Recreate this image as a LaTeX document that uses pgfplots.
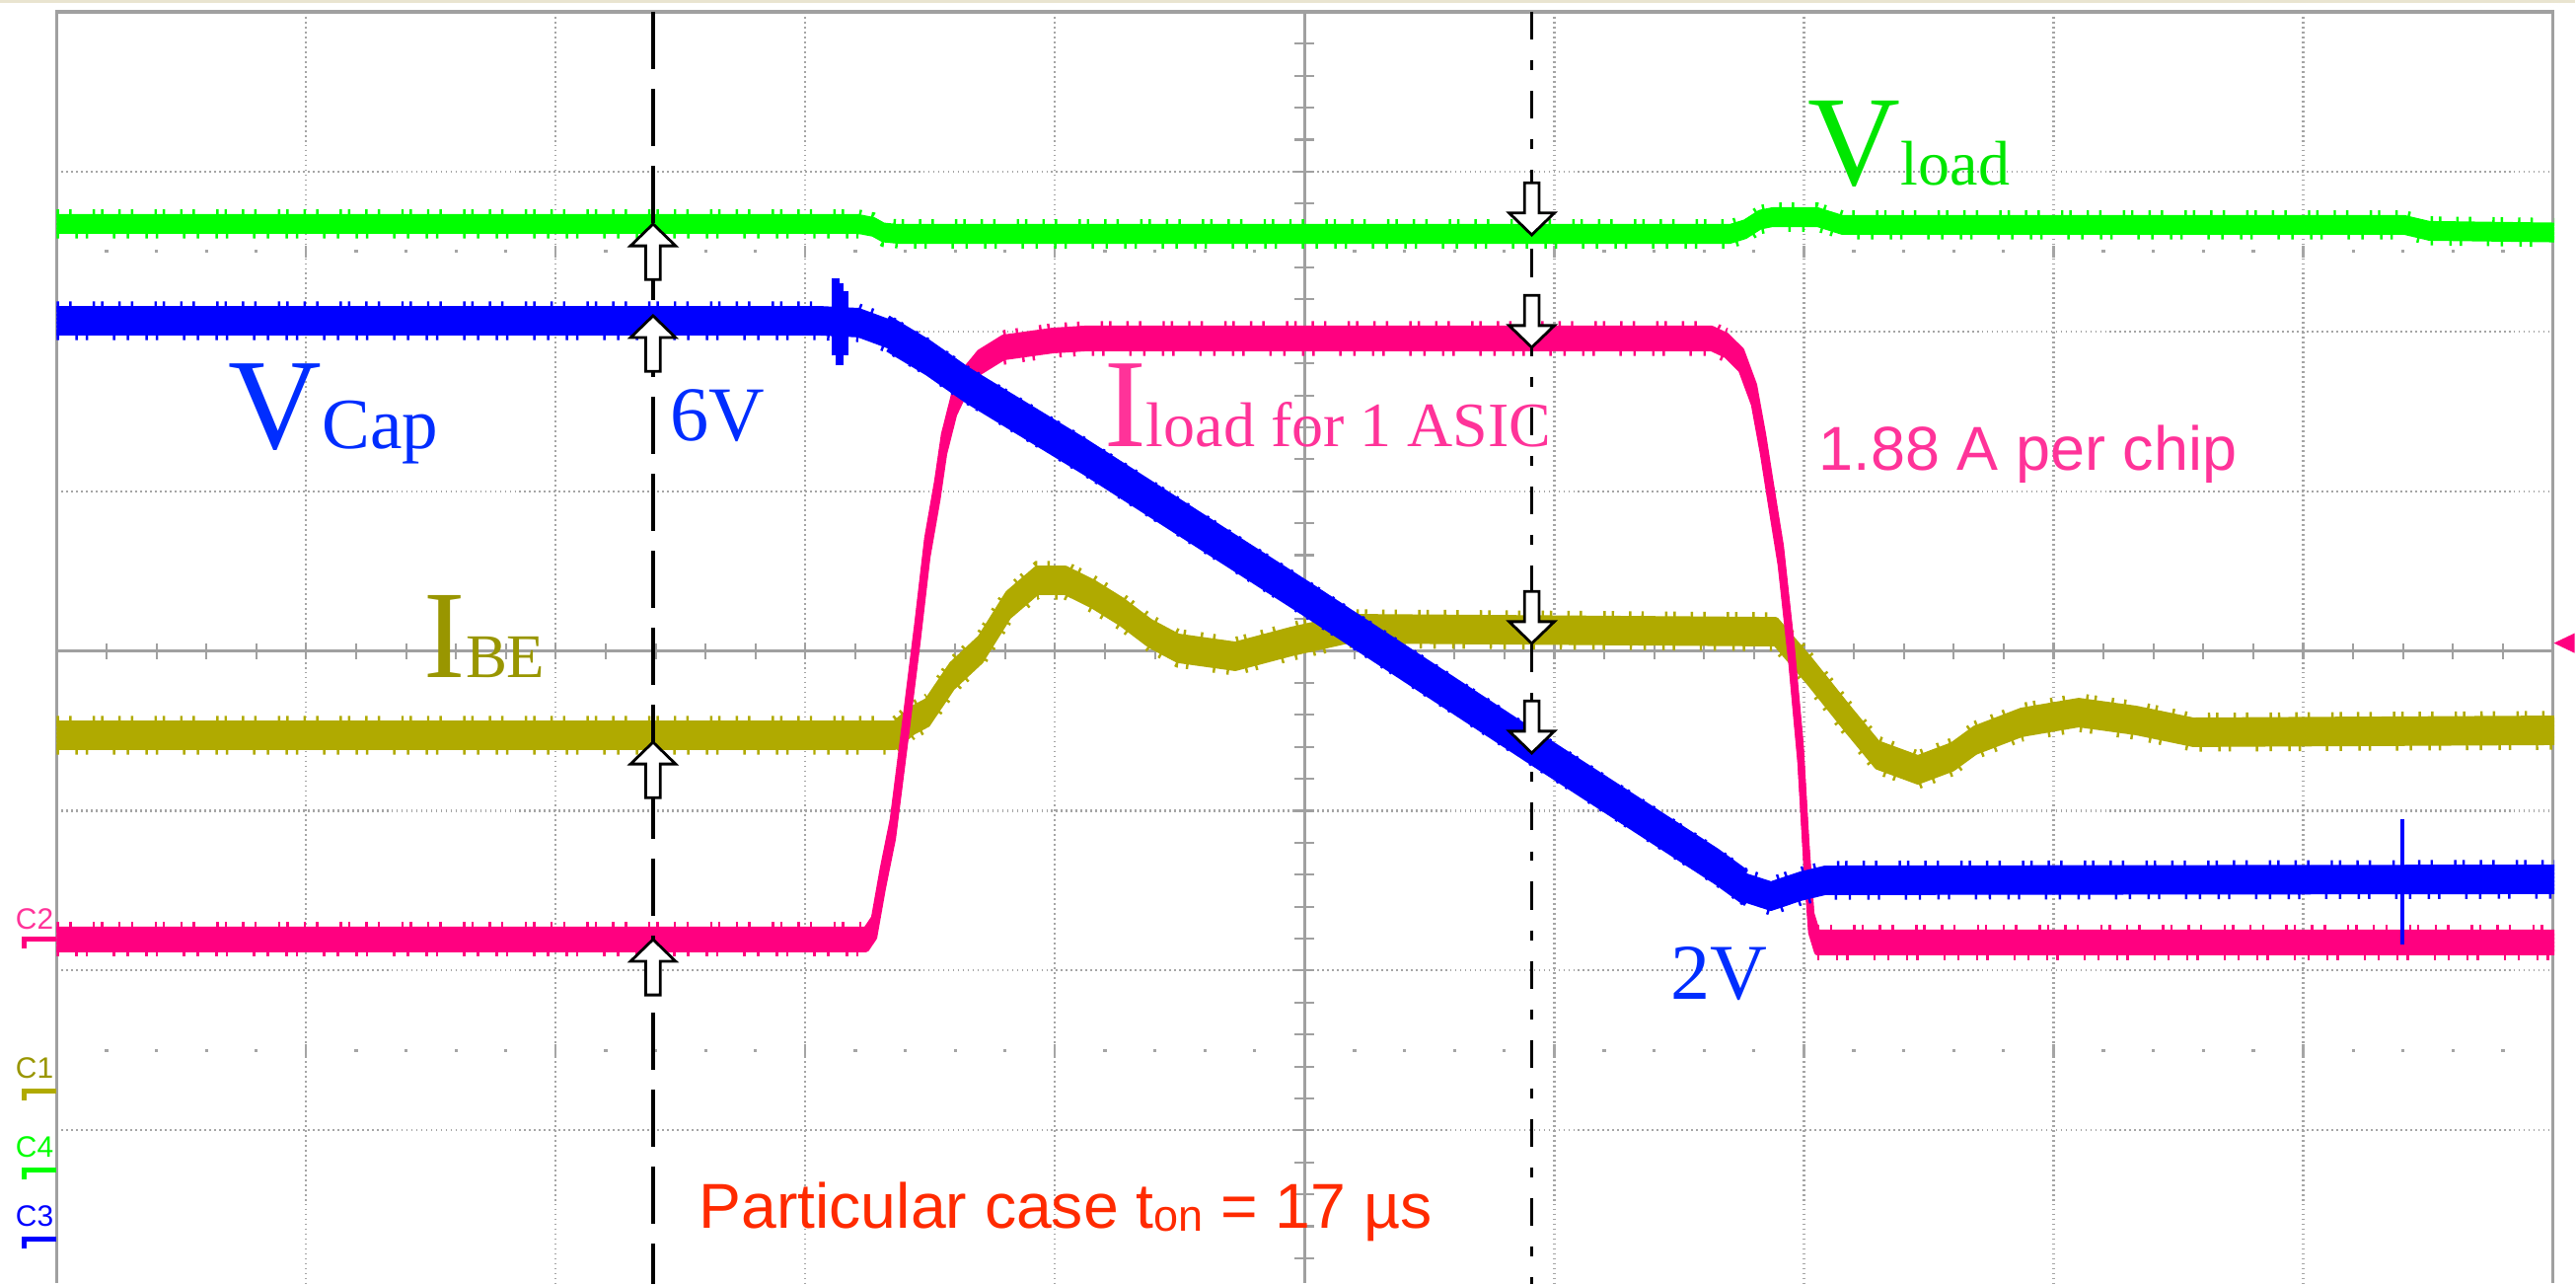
\documentclass[border=0pt]{standalone}
\usepackage{pgfplots}
\pgfplotsset{compat=1.18}
\usepackage{pgfplotstable}
\usepackage{fontspec}
\setmainfont{Liberation Serif}
\newfontfamily\sansfont{Liberation Sans}

% trace and label colours
\definecolor{trgreen}{RGB}{0,255,0}
\definecolor{trblue}{RGB}{0,0,255}
\definecolor{trpink}{RGB}{255,0,128}
\definecolor{tryellow}{RGB}{176,170,0}
\definecolor{lbgreen}{RGB}{0,230,0}
\definecolor{lbblue}{RGB}{0,45,255}
\definecolor{lbpink}{RGB}{255,51,153}
\definecolor{lbolive}{RGB}{153,150,0}
\definecolor{lbred}{RGB}{255,42,0}
\definecolor{gridgray}{RGB}{165,165,165}
\definecolor{axgray}{RGB}{160,160,160}
\definecolor{beige}{RGB}{233,228,208}

% hollow cursor arrows, tip at the data point
\pgfdeclareplotmark{cursorup}{%
  \pgfpathmoveto{\pgfqpoint{0pt}{0pt}}%
  \pgfpathlineto{\pgfqpoint{6.5pt}{-6.3pt}}%
  \pgfpathlineto{\pgfqpoint{2.1pt}{-6.3pt}}%
  \pgfpathlineto{\pgfqpoint{2.1pt}{-16pt}}%
  \pgfpathlineto{\pgfqpoint{-2.1pt}{-16pt}}%
  \pgfpathlineto{\pgfqpoint{-2.1pt}{-6.3pt}}%
  \pgfpathlineto{\pgfqpoint{-6.5pt}{-6.3pt}}%
  \pgfpathclose
  \pgfusepathqfillstroke}
\pgfdeclareplotmark{cursordown}{%
  \pgfpathmoveto{\pgfqpoint{0pt}{0pt}}%
  \pgfpathlineto{\pgfqpoint{6.5pt}{6.3pt}}%
  \pgfpathlineto{\pgfqpoint{2.1pt}{6.3pt}}%
  \pgfpathlineto{\pgfqpoint{2.1pt}{15pt}}%
  \pgfpathlineto{\pgfqpoint{-2.1pt}{15pt}}%
  \pgfpathlineto{\pgfqpoint{-2.1pt}{6.3pt}}%
  \pgfpathlineto{\pgfqpoint{-6.5pt}{6.3pt}}%
  \pgfpathclose
  \pgfusepathqfillstroke}

% traces in screen divisions: x = time div, y = vertical div
\pgfplotstableread{
x y
-5.000 2.673
-1.790 2.673
-1.730 2.655
-1.690 2.620
-1.630 2.611
1.700 2.611
1.760 2.640
1.820 2.700
1.870 2.716
2.050 2.716
2.150 2.667
4.400 2.667
4.500 2.630
5.000 2.620
}\vload

\pgfplotstableread{
x y
-5.000 2.068
-1.948 2.068
-1.790 2.056
-1.672 1.988
-1.514 1.840
-1.356 1.667
-0.882 1.216
0.011 0.321
0.896 -0.586
1.646 -1.346
1.765 -1.481
1.864 -1.531
1.982 -1.469
2.081 -1.432
5.000 -1.426
}\vcap

\pgfplotstableread{
x y
-5.000 -1.802
-1.759 -1.802
-1.727 -1.728
-1.692 -1.420
-1.652 -1.111
-1.597 -0.432
-1.553 0.123
-1.514 0.648
-1.474 1.006
-1.447 1.296
-1.407 1.543
-1.356 1.710
-1.304 1.809
-1.209 1.901
-1.012 1.944
-0.882 1.957
1.626 1.957
1.685 1.914
1.745 1.821
1.796 1.605
1.832 1.296
1.863 0.988
1.903 0.599
1.946 -0.019
1.982 -0.636
2.005 -1.253
2.025 -1.698
2.049 -1.821
5.000 -1.821
}\iload

\pgfplotstableread{
x y
-5.000 -0.525
-1.644 -0.525
-1.573 -0.432
-1.514 -0.383
-1.415 -0.154
-1.301 0.012
-1.190 0.290
-1.075 0.444
-0.961 0.444
-0.850 0.358
-0.736 0.247
-0.621 0.111
-0.510 0.019
-0.281 -0.031
-0.056 0.062
0.173 0.142
1.883 0.123
2.018 -0.123
2.176 -0.432
2.290 -0.648
2.452 -0.741
2.590 -0.660
2.681 -0.556
2.867 -0.444
3.096 -0.383
3.325 -0.432
3.554 -0.506
5.000 -0.494
}\ibe

\begin{document}
\begin{tikzpicture}
\path (0,0) rectangle (26.11cm,13.01cm);

% graticule, drawn in screen units (0.01 cm each, y downwards)
\begin{scope}[x=0.01cm, y=-0.01cm, yshift=13.01cm]
  \fill[beige] (0,0) rectangle (2611,3);
  \foreach \k in {1,2,3,4,6,7,8,9}
    \draw[gridgray, line width=0.6pt, dash pattern=on 0.5pt off 0.92pt]
      ({57.4+253.16*\k},12) -- ({57.4+253.16*\k},1301);
  \foreach \j in {-3,-2,-1,1,2,3}
    \draw[gridgray, line width=0.6pt, dash pattern=on 0.5pt off 0.92pt]
      (57.4,{660+162*\j}) -- (2589,{660+162*\j});
  \foreach \m in {1,...,49} {
    \pgfmathsetmacro\xx{57.4+50.632*\m}
    \pgfmathtruncatemacro\r{mod(\m,5)}
    \ifnum\r=0
      \draw[gridgray, line width=0.6pt] (\xx,249) -- (\xx,261);
      \draw[gridgray, line width=0.6pt] (\xx,1059) -- (\xx,1071);
    \else
      \fill[gridgray] ({\xx-1.6},253.4) rectangle ++(3.2,3.2);
      \fill[gridgray] ({\xx-1.6},1063.4) rectangle ++(3.2,3.2);
    \fi
    \draw[axgray, line width=0.6pt] (\xx,652) -- (\xx,668);
  }
  \foreach \n in {1,...,39}
    \draw[axgray, line width=0.6pt] (1313,{12+32.4*\n}) -- (1333,{12+32.4*\n});
  \draw[axgray, line width=0.85pt] (1323.2,12) -- (1323.2,1301);
  \draw[axgray, line width=0.85pt] (57.4,660) -- (2589,660);
  \draw[axgray, line width=0.95pt] (57.4,1301) -- (57.4,12) -- (2589,12) -- (2589,1301);
\end{scope}

\begin{axis}[
  at={(0.574cm,0cm)}, anchor=south west,
  scale only axis, width=25.316cm, height=12.89cm,
  xmin=-5, xmax=5, ymin=-3.957, ymax=4,
  axis line style={draw=none}, ticks=none,
  clip mode=individual,
  trace/.style={line width=1.8pt, line join=round, mark=none},
  % ragged band edges (sampling jitter)
  jitter up/.style={line width=2.4pt, mark=none,
    dash pattern=on 0.7pt off 2.9pt on 0.7pt off 6.1pt on 0.7pt off 1.7pt on 0.7pt off 4.3pt},
  jitter down/.style={line width=2.4pt, mark=none,
    dash pattern=on 0.7pt off 4.7pt on 0.7pt off 2.3pt on 0.7pt off 7.1pt on 0.7pt off 3.3pt},
]
  % each trace is a band: copies of the curve stacked vertically
  % I_BE
  \pgfplotsinvokeforeach{-3.35,-2.23,-1.12,0,1.12,2.23,3.35}{
    \addplot[trace, tryellow, yshift=#1pt] table[x=x, y=y] {\ibe};
  }
  \addplot[jitter up, tryellow, yshift=4.4pt] table[x=x, y=y] {\ibe};
  \addplot[jitter down, tryellow, yshift=-4.4pt] table[x=x, y=y] {\ibe};
  % I_load
  \pgfplotsinvokeforeach{-2.8,-1.68,-0.56,0.56,1.68,2.8}{
    \addplot[trace, trpink, yshift=#1pt] table[x=x, y=y] {\iload};
  }
  \pgfplotsinvokeforeach{{-5:-1.75},{-1.25:1.70},{2.04:5}}{
    \addplot[jitter up, trpink, yshift=3.8pt, restrict x to domain=#1] table[x=x, y=y] {\iload};
    \addplot[jitter down, trpink, yshift=-3.8pt, restrict x to domain=#1] table[x=x, y=y] {\iload};
  }
  % V_Cap
  \pgfplotsinvokeforeach{-3.35,-2.23,-1.12,0,1.12,2.23,3.35}{
    \addplot[trace, trblue, yshift=#1pt] table[x=x, y=y] {\vcap};
  }
  \pgfplotsinvokeforeach{-4.4,4.4}{
    \addplot[trace, trblue, yshift=#1pt, restrict x to domain=-1.70:1.80] table[x=x, y=y] {\vcap};
  }
  \addplot[jitter up, trblue, yshift=4.4pt] table[x=x, y=y] {\vcap};
  \addplot[jitter down, trblue, yshift=-4.4pt] table[x=x, y=y] {\vcap};
  \addplot[trblue, line width=2.2pt, mark=none] coordinates {(-1.881,1.85) (-1.881,2.333)};
  \addplot[trblue, line width=2.2pt, mark=none] coordinates {(-1.864,1.79) (-1.864,2.300)};
  \addplot[trblue, line width=2.2pt, mark=none] coordinates {(-1.846,1.85) (-1.846,2.250)};
  \addplot[trblue, line width=1.2pt, mark=none] coordinates {(4.392,-1.049) (4.392,-1.833)};
  % V_load
  \pgfplotsinvokeforeach{-1.95,-0.65,0.65,1.95}{
    \addplot[trace, trgreen, yshift=#1pt] table[x=x, y=y] {\vload};
  }
  \addplot[jitter up, trgreen, yshift=3pt] table[x=x, y=y] {\vload};
  \addplot[jitter down, trgreen, yshift=-3pt] table[x=x, y=y] {\vload};

  % time cursors
  \addplot[black, line width=0.9pt, mark=none, dash pattern=on 16.5pt off 5.7pt]
    coordinates {(-2.612,4) (-2.612,-3.957)};
  \addplot[black, line width=0.9pt, mark=none, dash pattern=on 8pt off 6pt on 2.8pt off 6pt]
    coordinates {(0.906,4) (0.906,-3.957)};
  \addplot[only marks, mark=cursorup, mark options={solid, draw=black, fill=white, line width=0.8pt}]
    coordinates {(-2.612,2.673) (-2.612,2.099) (-2.612,-0.568) (-2.612,-1.802)};
  \addplot[only marks, mark=cursordown, mark options={solid, draw=black, fill=white, line width=0.8pt}]
    coordinates {(0.906,2.605) (0.906,1.901) (0.906,0.049) (0.906,-0.636)};
\end{axis}

% channel markers, trigger marker and annotations
\begin{scope}[x=0.01cm, y=-0.01cm, yshift=13.01cm,
  every node/.style={anchor=base west, inner sep=0pt, outer sep=0pt}]
  \fill[trpink] (2590,652) -- (2611,642) -- (2611,662) -- cycle;
  \fill[trpink] (22,950) rectangle (57,955); \fill[trpink] (22,950) rectangle (27,962);
  \fill[tryellow] (22,1104) rectangle (57,1109); \fill[tryellow] (22,1104) rectangle (27,1116);
  \fill[trgreen] (22,1184) rectangle (57,1189); \fill[trgreen] (22,1184) rectangle (27,1196);
  \fill[trblue] (22,1254) rectangle (57,1259); \fill[trblue] (22,1254) rectangle (27,1266);
  \node[text=lbpink] at (16,942) {\sansfont\fontsize{8.5}{9}\selectfont C2};
  \node[text=lbolive] at (16,1093) {\sansfont\fontsize{8.5}{9}\selectfont C1};
  \node[text=trgreen] at (16,1173) {\sansfont\fontsize{8.5}{9}\selectfont C4};
  \node[text=trblue] at (16,1243) {\sansfont\fontsize{8.5}{9}\selectfont C3};

  \node[text=lbblue] at (232,455) {\fontsize{37.3}{40}\selectfont V\fontsize{20.8}{22}\selectfont Cap};
  \node[text=lbblue] at (680,447) {\fontsize{22.3}{24}\selectfont 6V};
  \node[text=lbpink] at (1120,453) {\fontsize{36.4}{40}\selectfont I\fontsize{18.2}{20}\selectfont load for 1 ASIC};
  \node[text=lbpink] at (1845,477) {\sansfont\fontsize{17.9}{20}\selectfont 1.88 A per chip};
  \node[text=lbolive] at (430,687) {\fontsize{36.1}{40}\selectfont I\fontsize{17.9}{20}\selectfont BE};
  \node[text=lbgreen] at (1834,188) {\fontsize{37}{40}\selectfont V\fontsize{18.2}{20}\selectfont load};
  \node[text=lbblue] at (1694,1013) {\fontsize{22.8}{25}\selectfont 2V};
  \node[text=lbred] at (709,1245) {\sansfont\fontsize{18.3}{20}\selectfont Particular case t\raisebox{-0.9pt}{\fontsize{12.8}{14}\selectfont on} = 17 µs};
\end{scope}
\pgfresetboundingbox
\path[use as bounding box] (0,0) rectangle (26.11cm,13.01cm);
\end{tikzpicture}
\end{document}
